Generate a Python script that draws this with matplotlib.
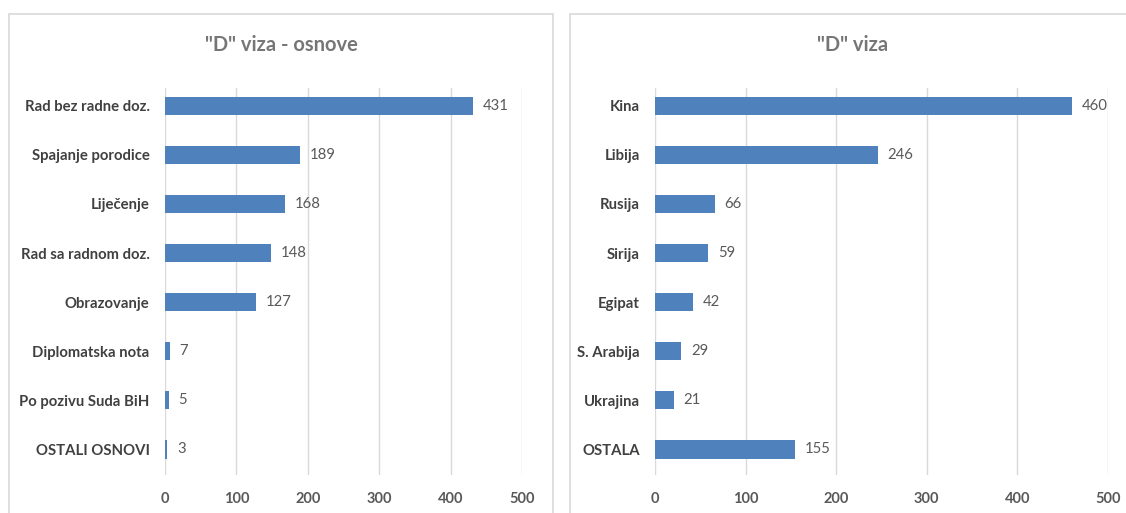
import matplotlib
matplotlib.use("Agg")
import matplotlib.pyplot as plt
import matplotlib.patches as pat

plt.rcParams['font.family'] = ['Lato', 'DejaVu Sans']

# podaci - lijevi grafikon
osnove = ["Rad bez radne doz.", "Spajanje porodice", "Liječenje", "Rad sa radnom doz.",
          "Obrazovanje", "Diplomatska nota", "Po pozivu Suda BiH", "OSTALI OSNOVI"]
osnove_vr = [431, 189, 168, 148, 127, 7, 5, 3]

# podaci - desni grafikon
drzave = ["Kina", "Libija", "Rusija", "Sirija", "Egipat", "S. Arabija", "Ukrajina", "OSTALA"]
drzave_vr = [460, 246, 66, 59, 42, 29, 21, 155]

xticks = [0, 100, 200, 300, 400, 500]

W, H = 1126, 513
fig = plt.figure(figsize=(W / 100, H / 100), dpi=100)

BLUE = "#4F81BD"
GRID = "#D9D9D9"
LBL = "#404040"
VAL = "#595959"
TIT = "#767676"

# okviri oko grafikona
fig.patches.append(pat.Rectangle((9 / W, -0.05), (553 - 9) / W, 1 - 13.5 / H + 0.05,
                                 transform=fig.transFigure, fill=False,
                                 edgecolor=GRID, linewidth=1.2))
fig.patches.append(pat.Rectangle((570 / W, -0.05), 0.6, 1 - 13.5 / H + 0.05,
                                 transform=fig.transFigure, fill=False,
                                 edgecolor=GRID, linewidth=1.2))


def crtaj(x0, x1, kategorije, vrijednosti, naslov, tx):
    ax = fig.add_axes([x0 / W, 1 - 475 / H, (x1 - x0) / W, (475 - 88) / H])
    y = list(range(len(kategorije)))
    ax.barh(y, vrijednosti, height=0.37, color=BLUE, zorder=3)
    ax.set_xlim(0, 500)
    ax.set_ylim(7.52, -0.36)
    ax.set_xticks(xticks)
    ax.set_xticklabels([str(t) for t in xticks])
    ax.set_yticks(y)
    ax.set_yticklabels(kategorije)
    ax.grid(axis="x", color=GRID, linewidth=1, zorder=0)
    for s in ax.spines.values():
        s.set_visible(False)
    ax.tick_params(length=0)
    ax.tick_params(axis="y", pad=11)
    ax.tick_params(axis="x", pad=12)
    for t in ax.get_yticklabels():
        t.set_fontsize(10.7)
        t.set_fontweight("bold")
        t.set_color(LBL)
    for t in ax.get_xticklabels():
        t.set_fontsize(10.5)
        t.set_fontweight("bold")
        t.set_color(VAL)
    for yi, v in zip(y, vrijednosti):
        ax.annotate(str(v), (v, yi), xytext=(7, 0), textcoords="offset points",
                    ha="left", va="center", fontsize=10.7, color=VAL)
    fig.text(tx / W, 1 - 45 / H, naslov, ha="center", va="center",
             fontsize=14.5, fontweight="bold", color=TIT)
    return ax


crtaj(165, 522, osnove, osnove_vr, '"D" viza - osnove', 281)
crtaj(655, 1108, drzave, drzave_vr, '"D" viza', 853)

fig.savefig("out.png", dpi=100, facecolor="white")
